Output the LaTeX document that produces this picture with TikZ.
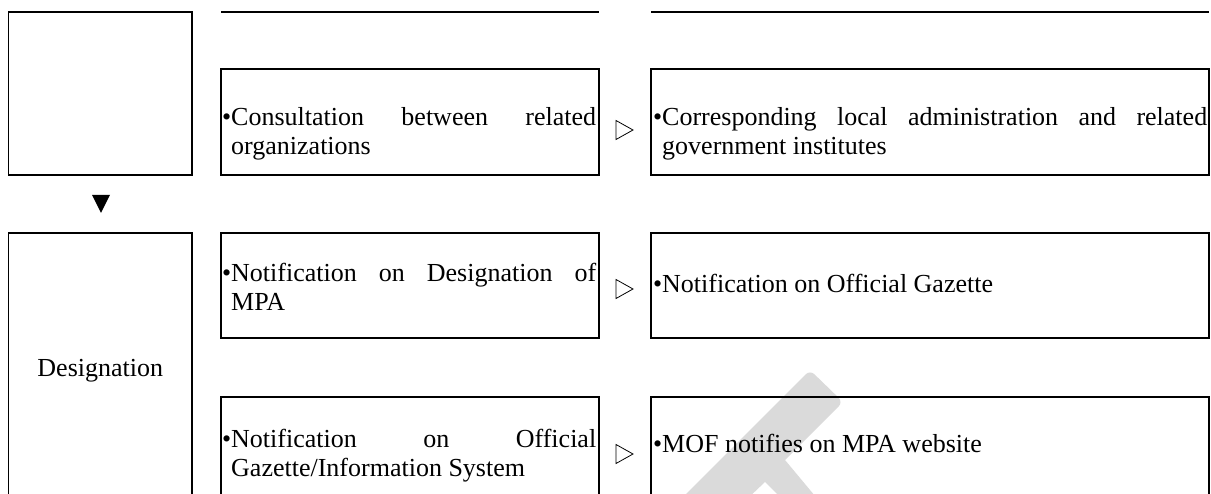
\documentclass[tikz,border=0pt]{standalone}
\usepackage{fontspec}
\setmainfont{Liberation Serif}
\definecolor{wmgray}{RGB}{218,218,218}
\tikzset{
  box/.style={draw, line width=1.1pt, inner sep=0pt, outer sep=0pt, anchor=north west},
  rule/.style={line width=1.1pt},
  txt/.style={inner sep=0pt, anchor=base west, font=\fontsize{26}{29}\selectfont},
  opentri/.style={line width=0.8pt, line join=miter},
  solidtri/.style={fill=black},
}
\newcommand{\firstline}[1]{\leavevmode\llap{•}\makebox[\linewidth][s]{#1}\par}
\begin{document}
\begin{tikzpicture}[x=1pt,y=-1pt]
\useasboundingbox (0,0) rectangle (1211,494);
\clip (0,0) rectangle (1211,494);
% watermark fragment
\fill[wmgray] (660,520) [rounded corners=6pt] -- (810,370) -- (843,402) [sharp corners] -- (785,460) -- (835,520) -- (803,520) -- (765,482) -- (725,520) -- cycle;
% top rules
\draw[rule] (221,12) -- (599,12);
\draw[rule] (651,12) -- (1209,12);
% boxes
\node[box, minimum width=183.5pt, minimum height=163pt] (l1) at (8.5,12) {};
\node[box, minimum width=378pt, minimum height=106pt] (b12) at (221,69) {};
\node[box, minimum width=558pt, minimum height=106pt] (b13) at (651,69) {};
\node[box, minimum width=183.5pt, minimum height=269pt] (l2) at (8.5,233) {};
\node[box, minimum width=378pt, minimum height=105pt] (b22) at (221,233) {};
\node[box, minimum width=558pt, minimum height=105pt] (b23) at (651,233) {};
\node[box, minimum width=378pt, minimum height=105pt] (b32) at (221,397) {};
\node[box, minimum width=558pt, minimum height=105pt] (b33) at (651,397) {};
% texts
\node[txt] (t12) at (231,126) {\parbox[t]{365pt}{\firstline{Consultation between related}organizations}};
\node[txt] (t13) at (662,126) {\parbox[t]{545pt}{\firstline{Corresponding local administration and related}government institutes}};
\node[txt] (t22) at (231,282) {\parbox[t]{365pt}{\firstline{Notification on Designation of}MPA}};
\node[txt] (t23) at (662,293) {\llap{•}Notification on Official Gazette};
\node[txt] (t32) at (231,447) {\parbox[t]{365pt}{\firstline{Notification on Official}Gazette/Information System}};
\node[txt] (t33) at (662,452) {\llap{•}MOF notifies on MPA website};
\node[txt, anchor=base] (des) at (100.3,377) {Designation};
% arrows (glyph-like triangles)
\draw[opentri] (616,120.5) -- (633,130) -- (616,139.5) -- cycle;
\draw[opentri] (616,279.5) -- (633,289) -- (616,298.5) -- cycle;
\draw[opentri] (616,444.5) -- (633,454) -- (616,463.5) -- cycle;
\fill[solidtri] (92,195) -- (110,195) -- (101,213) -- cycle;
\end{tikzpicture}
\end{document}
